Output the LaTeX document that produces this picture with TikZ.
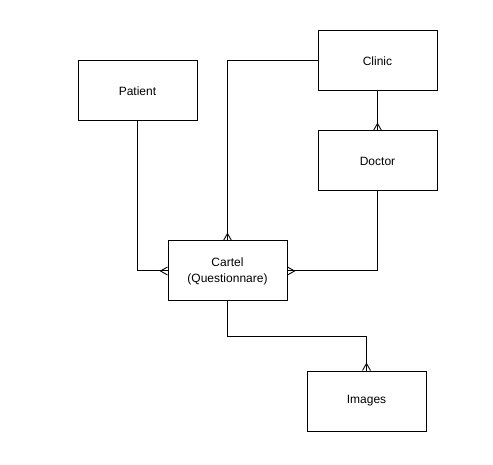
\documentclass[tikz,border=0pt]{standalone}
\usepackage{fontspec}
\setmainfont{Liberation Sans}
\usetikzlibrary{calc}
\newcommand\erMany[3]{\draw[line width=0.9pt] ($(#1)+#2$) -- ($(#1)+#3$) -- ($(#1)-#2$);}
\begin{document}
\begin{tikzpicture}[x=1pt,y=-1pt,
  entity/.style={draw,line width=1pt,minimum width=119pt,minimum height=60pt,inner sep=0pt,align=center,font=\fontsize{12}{16}\selectfont},
  link/.style={draw,line width=1pt}]
\useasboundingbox[fill=white] (0,0) rectangle (493,465);
\node[entity] (cli) at (377.5,61) {Clinic};
\node[entity] (pat) at (137.5,91) {Patient};
\node[entity] (doc) at (377.5,161) {Doctor};
\node[entity] (cart) at (227.5,271) {Cartel\\(Questionnare)};
\node[entity] (img) at (366.5,401) {Images};
\draw[link] (pat.south) |- (cart.west);
\draw[link] (cli.west) -| (cart.north);
\draw[link] (cli.south) -- (doc.north);
\draw[link] (doc.south) |- (cart.east);
\draw[link] (cart.south) -- ++(0,35) -| (img.north);
\erMany{cart.west}{(0,-4)}{(-7,0)}
\erMany{cart.east}{(0,-4)}{(7,0)}
\erMany{cart.north}{(-4,0)}{(0,-7)}
\erMany{doc.north}{(-4,0)}{(0,-7)}
\erMany{img.north}{(-4,0)}{(0,-7)}
\end{tikzpicture}
\end{document}
